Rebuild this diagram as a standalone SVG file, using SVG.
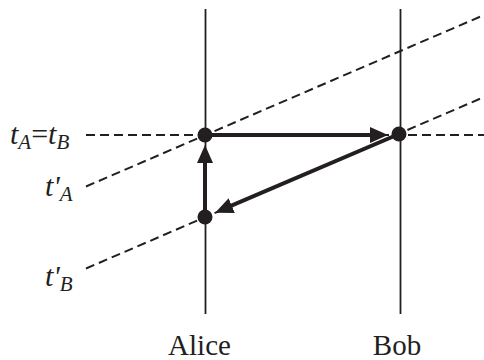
<svg xmlns="http://www.w3.org/2000/svg" width="484" height="360" viewBox="0 0 484 360">
<style>
.world{stroke:#231f20;stroke-width:1.8;fill:none}
.dash{stroke:#231f20;stroke-width:2;fill:none;stroke-dasharray:9 5}
.arrow{stroke:#231f20;stroke-width:4;fill:none;marker-end:url(#ah)}
.dot{fill:#231f20}
text{font-family:'Liberation Serif','Times New Roman',Times,serif;fill:#231f20}
.lbl{font-size:30px;font-style:italic}
.sub{font-size:21px}
.name{font-size:29px;text-anchor:middle}
</style>
<defs>
<marker id="ah" viewBox="0 0 18 16" refX="8" refY="8" markerWidth="18" markerHeight="16" markerUnits="userSpaceOnUse" orient="auto">
<path d="M0,0 L18,8 L0,16 z" fill="#231f20"/>
</marker>
</defs>
<g id="worldlines">
<line class="world" x1="205.5" y1="9" x2="205.5" y2="314"/>
<line class="world" x1="400.5" y1="9" x2="400.5" y2="314"/>
</g>
<g id="simultaneity">
<line class="dash" x1="86" y1="135" x2="484" y2="135"/>
<line class="dash" x1="86" y1="186.5" x2="484" y2="15"/>
<line class="dash" x1="86" y1="268.5" x2="484" y2="97"/>
</g>
<g id="connectors">
<line class="arrow" x1="205" y1="135" x2="378" y2="135"/>
<line class="arrow" x1="399" y1="134" x2="224.4" y2="208.7"/>
<line class="arrow" x1="205" y1="217" x2="205" y2="155"/>
</g>
<g id="eventA1"><circle class="dot" cx="205" cy="135" r="7.5"/></g>
<g id="eventB"><circle class="dot" cx="399" cy="134" r="7.5"/></g>
<g id="eventA0"><circle class="dot" cx="205" cy="217" r="7.5"/></g>
<g id="labels">
<text class="lbl" x="10" y="144" font-family="Liberation Serif">t<tspan class="sub" dy="5">A</tspan><tspan dy="-5" font-style="normal">=</tspan>t<tspan class="sub" dy="5">B</tspan></text>
<text class="lbl" x="45" y="196" font-family="Liberation Serif">t'<tspan class="sub" dy="5">A</tspan></text>
<text class="lbl" x="45" y="286" font-family="Liberation Serif">t'<tspan class="sub" dy="5">B</tspan></text>
<text class="name" x="199.5" y="355" font-family="Liberation Serif">Alice</text>
<text class="name" x="397" y="355" font-family="Liberation Serif">Bob</text>
</g>
</svg>
